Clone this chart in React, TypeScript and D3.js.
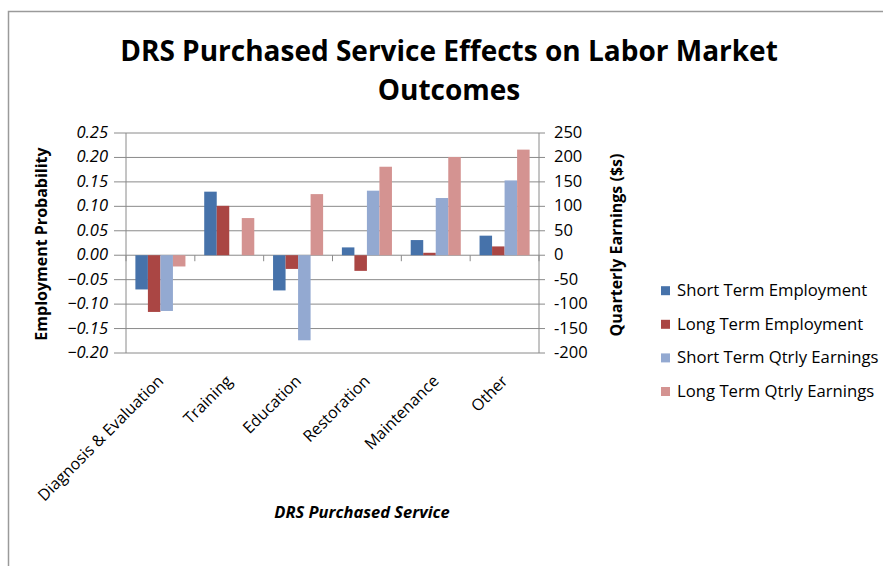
import React from "react";
import * as d3 from "d3";

// Categories and series values
const categories = [
  "Diagnosis & Evaluation",
  "Training",
  "Education",
  "Restoration",
  "Maintenance",
  "Other",
];
const shortTermEmployment = [-0.07, 0.13, -0.072, 0.016, 0.031, 0.04];
const longTermEmployment = [-0.116, 0.101, -0.028, -0.032, 0.005, 0.018];
const shortTermEarnings = [-114, 0, -174, 132, 117, 153];
const longTermEarnings = [-23, 76, 125, 181, 201, 216];

const seriesNames = [
  "Short Term Employment",
  "Long Term Employment",
  "Short Term Qtrly Earnings",
  "Long Term Qtrly Earnings",
];
const seriesColors = ["#4672aa", "#aa4644", "#93a9d1", "#d49391"];

const leftTicks = [-0.2, -0.15, -0.1, -0.05, 0, 0.05, 0.1, 0.15, 0.2, 0.25];
const rightTicks = [-200, -150, -100, -50, 0, 50, 100, 150, 200, 250];

const W = 883;
const H = 566;
const FONT = "'Open Sans', sans-serif";

export default function App() {
  const plotL = 126;
  const plotR = 539;
  const plotT = 133;
  const plotB = 353;

  const x = d3.scaleBand<string>().domain(categories).range([plotL, plotR]);
  const yL = d3.scaleLinear().domain([-0.2, 0.25]).range([plotB, plotT]);
  const yR = d3.scaleLinear().domain([-200, 250]).range([plotB, plotT]);

  // Clustered bars with a 150% gap width: 4 bars + 1.5 bar widths of gap per category
  const bw = x.bandwidth() / 5.5;
  const series = [
    { values: shortTermEmployment, scale: yL },
    { values: longTermEmployment, scale: yL },
    { values: shortTermEarnings, scale: yR },
    { values: longTermEarnings, scale: yR },
  ];

  const gridColor = "#8a8a8a";

  return (
    <svg
      width={W}
      height={H}
      style={{ position: "absolute", left: 0, top: 0, background: "#fff" }}
      fontFamily={FONT}
    >
      {/* chart frame */}
      <path d={`M8.5,${H} V11.5 H${W}`} fill="none" stroke="#9a9a9a" strokeWidth={1.5} />

      {/* title */}
      <text x={449} y={61} textAnchor="middle" fontSize={28} fontWeight="bold" fill="#000">
        DRS Purchased Service Effects on Labor Market
      </text>
      <text x={449} y={100} textAnchor="middle" fontSize={28} fontWeight="bold" fill="#000">
        Outcomes
      </text>

      {/* gridlines */}
      {leftTicks.map((t) => (
        <line key={t} x1={plotL - 12} x2={plotR + 6} y1={yL(t)} y2={yL(t)} stroke={gridColor} strokeWidth={1} />
      ))}
      {/* axes */}
      <line x1={plotL} x2={plotL} y1={plotT} y2={plotB} stroke={gridColor} />
      <line x1={plotR} x2={plotR} y1={plotT} y2={plotB} stroke={gridColor} />
      {/* category tick marks at the zero line */}
      {d3.range(categories.length + 1).map((i) => {
        const xx = plotL + i * x.step();
        return <line key={i} x1={xx} x2={xx} y1={yL(0)} y2={yL(0) + 6} stroke={gridColor} />;
      })}

      {/* bars */}
      {series.map((s, si) =>
        s.values.map((v, ci) => {
          const x0 = (x(categories[ci]) as number) + 0.75 * bw + si * bw;
          const y0 = s.scale(0);
          const y1 = s.scale(v);
          return (
            <rect
              key={`${si}-${ci}`}
              x={x0}
              y={Math.min(y0, y1)}
              width={bw}
              height={Math.abs(y1 - y0)}
              fill={seriesColors[si]}
            />
          );
        })
      )}

      {/* left tick labels */}
      {leftTicks.map((t) => (
        <text key={t} x={108} y={yL(t) + 5} textAnchor="end" fontSize={16.5} fontStyle="italic" fill="#000">
          {d3.format(".2f")(t)}
        </text>
      ))}
      {/* right tick labels */}
      {rightTicks.map((t) => (
        <text key={t} x={554} y={yR(t) + 5} textAnchor="start" fontSize={16.5} fill="#000">
          {t}
        </text>
      ))}

      {/* category labels */}
      {categories.map((c) => {
        const cx = (x(c) as number) + x.bandwidth() / 2 + 4;
        const cy = 382;
        return (
          <text key={c} x={cx} y={cy} textAnchor="end" fontSize={16} transform={`rotate(-45 ${cx} ${cy})`} fill="#000">
            {c}
          </text>
        );
      })}

      {/* axis titles */}
      <text x={362} y={518} textAnchor="middle" fontSize={16.5} fontWeight="bold" fontStyle="italic" fill="#000">
        DRS Purchased Service
      </text>
      <text
        x={47}
        y={244}
        textAnchor="middle"
        fontSize={16}
        fontWeight="bold"
        fill="#000"
        transform="rotate(-90 47 244)"
      >
        Employment Probability
      </text>
      <text
        x={622}
        y={245}
        textAnchor="middle"
        fontSize={16}
        fontWeight="bold"
        fill="#000"
        transform="rotate(-90 622 245)"
      >
        Quarterly Earnings ($s)
      </text>

      {/* legend */}
      {seriesNames.map((n, i) => {
        const cy = 290.7 + i * 33.6;
        return (
          <g key={n}>
            <rect x={661} y={cy - 4.5} width={9} height={9} fill={seriesColors[i]} />
            <text x={677} y={cy + 5.5} fontSize={16.7} fill="#000">
              {n}
            </text>
          </g>
        );
      })}
    </svg>
  );
}
